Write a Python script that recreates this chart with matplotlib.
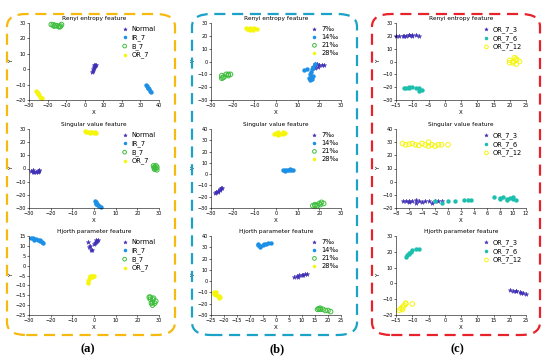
import numpy as np
import matplotlib
matplotlib.use("Agg")
import matplotlib.pyplot as plt
from matplotlib.patches import FancyBboxPatch

plt.rcParams['font.family'] = ['DejaVu Sans']

# class labels
labels_a = ["Normal", "IR_7", "B_7", "OR_7"]
labels_b = ["7\u2030", "14\u2030", "21\u2030", "28\u2030"]
labels_c = ["OR_7_3", "OR_7_6", "OR_7_12"]

# (a) Renyi entropy feature
a1_normal_x = [4, 4.3, 4.6, 5, 5.3, 5.6, 6, 5, 4.8]
a1_normal_y = [-2, -1, 0, 1, 2, 2.8, 3, 3, 1.5]
a1_ir_x = [33, 33.5, 34, 34.5, 35, 35.5, 34.2]
a1_ir_y = [-10, -11, -12, -13, -14, -15, -12.5]
a1_b_x = [-18, -17, -16, -15, -14, -13, -12.5, -13.5, -16.5]
a1_b_y = [29, 28.8, 28.5, 28.2, 27.8, 28, 29, 27.5, 28]
a1_or_x = [-26, -25.5, -25, -24.5, -24, -23, -23.5, -25.2]
a1_or_y = [-14, -15, -16, -17, -18, -19, -18.5, -15.5]

# (a) Singular value feature
a2_normal_x = [-29, -28, -27, -26, -25.5, -26, -28, -27.5, -25.2]
a2_normal_y = [-2, -3, -3, -2, -1, -3, -1.5, -2.5, -2]
a2_ir_x = [0.5, 1, 1.5, 2, 3, 1, 2.5, 0.8]
a2_ir_y = [-25, -26, -27, -28, -29, -27, -28.5, -25.5]
a2_b_x = [27.5, 28, 28.5, 29, 28, 29, 28.6, 27.8]
a2_b_y = [2, 1, 0, -1, -0.5, 1, 2, 0.5]
a2_or_x = [-4, -3, -2, -1, 0, 1, -2, -3.5, 0.5]
a2_or_y = [28.5, 28, 28, 27.5, 27, 27, 27, 27.8, 27.8]

# (a) Hjorth parameter feature
a3_normal_x = [-3, -2, -1, 0, 1, 1, 2, 0.5, -1.5, -2.5, 1.5]
a3_normal_y = [12, 10, 8, 11, 12, 13, 13, 11.5, 8, 9.5, 12.5]
a3_ir_x = [-29, -28, -27, -26, -25, -24, -23.5, -25, -27.5]
a3_ir_y = [14, 14, 13.5, 13, 12.5, 12, 11.5, 13, 13]
a3_b_x = [25.5, 26, 27, 27, 28, 27, 28.5, 26.5, 26, 27.5]
a3_b_y = [-16, -17, -17, -18.5, -19, -20, -18, -19, -16, -16.5]
a3_or_x = [-3, -2.5, -2, -1, 0, -1, -3, -0.5, -2]
a3_or_y = [-8, -7, -6, -5, -5.5, -6, -9, -5, -5]

# (b) Renyi entropy feature
b1_7_x = [17, 18, 19, 20, 21, 22, 18, 18, 19.5]
b1_7_y = [-4, -3, -2, -3, -3, -3, -5, -2, -4]
b1_14_x = [18, 17, 16.5, 16, 15.5, 16, 16.5, 15, 13, 17, 15.5, 14.5]
b1_14_y = [-2, -4, -6, -8, -10, -12, -14, -13, -7, -11, -14.5, -6]
b1_21_x = [-25, -25, -24, -23, -22, -21, -22, -24.5]
b1_21_y = [-13, -11, -12, -10, -10, -10, -11, -12.5]
b1_28_x = [-14, -13, -12, -11, -10, -9, -12, -13.5, -10.5]
b1_28_y = [26, 25, 26, 25, 26, 25.5, 24.5, 25.5, 24.8]

# (b) Singular value feature
b2_7_x = [-28, -27, -26, -25, -26, -27, -27.5, -25.5]
b2_7_y = [-17, -15, -13, -12, -14, -16, -16, -12.5]
b2_14_x = [3, 4, 5, 6, 7, 8, 4, 6.5]
b2_14_y = [4, 4, 3.5, 4, 3.5, 3.5, 3, 4.5]
b2_21_x = [17, 18, 19, 20, 21, 22, 18, 20.5]
b2_21_y = [-28, -27, -28, -26, -25, -26, -28, -27]
b2_28_x = [-1, 0, 1, 2, 3, 4, 1, 0.5, 3]
b2_28_y = [36, 36.5, 37, 36, 36, 36.5, 35, 35.5, 37]

# (b) Hjorth parameter feature
b3_7_x = [7, 8, 9, 10, 11, 12, 8.5, 10.5]
b3_7_y = [4, 4.5, 5, 5.5, 6, 6, 4, 5]
b3_14_x = [-7, -6, -5, -4, -3, -2, -6, -7, -4.5]
b3_14_y = [32, 31, 32, 33, 33.5, 34, 30.5, 33, 32.5]
b3_21_x = [16, 17, 18, 19, 20, 21, 17, 16.5]
b3_21_y = [-25, -24, -25, -26, -26, -27, -25, -24.5]
b3_28_x = [-24, -23, -23, -22, -21.5, -22, -24, -22.5]
b3_28_y = [-10, -10, -12, -13, -14, -15, -11, -13.5]

# (c) Renyi entropy feature
c1_3_x = [-15, -14, -13, -12, -11, -10, -9, -8, -10, -11, -12.5]
c1_3_y = [20, 20, 19.5, 20, 20.5, 21, 20.5, 20, 20, 21, 19.5]
c1_6_x = [-12, -11, -10, -9, -8, -7, -8, -11, -12.5]
c1_6_y = [-21, -20, -20, -20.5, -21, -22, -23, -21, -20.5]
c1_12_x = [20, 21, 22, 22, 21, 23, 22, 20, 21.5]
c1_12_y = [-1, 0, 1, 2, -1, 0, -2, 1, 3]

# (c) Singular value feature
c2_3_x = [-7, -6.5, -6, -5.5, -5, -4.5, -4, -3.5, -3, -2.5, -2, -1.5, -1, -5, -6]
c2_3_y = [-15, -15, -14.5, -15, -14, -15, -15.5, -14.5, -15, -16, -15, -14.5, -15, -16, -15.5]
c2_6_x = [-2, -1, 0, 1, 3, 3.5, 2.5, 7, 8, 8.5, 9, 9.5, 10, 10.5, 9, 8, 10]
c2_6_y = [-15, -16, -15, -15, -14, -14, -14, -12, -13, -12, -13, -12.5, -13, -14, -14, -12.5, -12]
c2_12_x = [-7, -6.5, -6, -5, -4.5, -4, -3.5, -3, -2.5, -2, -1.5, -1, 0, -3, -5.5]
c2_12_y = [29, 28, 28.5, 28, 27.5, 29, 28, 30, 28, 27, 28, 28, 28, 27, 29]

# (c) Hjorth parameter feature
c3_3_x = [20, 21, 22, 23, 24, 25, 22, 23.5]
c3_3_y = [-4, -4.5, -5, -5.5, -6, -7, -4.5, -6]
c3_6_x = [-12, -11.5, -11, -10.5, -10, -9, -8, -11]
c3_6_y = [17, 18, 19, 20, 21, 21.5, 21.5, 18.5]
c3_12_x = [-14, -13.5, -13, -12.5, -12, -10, -13, -12]
c3_12_y = [-17, -16, -15, -14, -13, -13, -16.5, -12.5]

purple = "#3f2fb4"
blue = "#1c8fe6"
green = "#3dbe3c"
yellow = "#f6f50c"
teal = "#1cbfae"

titles = ["Renyi entropy feature", "Singular value feature", "Hjorth parameter feature"]

fig = plt.figure(figsize=(5.5, 3.61), dpi=100)

lefts = [29/550, 211/550, 396/550]
width = 130/550
bottoms = [1-100/361, 1-208/361, 1-315/361]
heights = [77/361, 79/361, 79/361]
leg_x = [0.71, 0.77, 0.67]


def scatter_groups(ax, groups, labels, colors, styles, lx):
    for (gx, gy), lab, col, st in zip(groups, labels, colors, styles):
        if st == "hollow":
            ax.scatter(gx, gy, s=11, marker="o", facecolors="none", edgecolors=col,
                       linewidths=0.7, label=lab, clip_on=False)
        elif st == "star":
            ax.scatter(gx, gy, s=11, marker="*", color=col, linewidths=0.3, label=lab,
                       clip_on=False)
        else:
            ax.scatter(gx, gy, s=10, marker="o", color=col, linewidths=0, label=lab,
                       clip_on=False)
    leg = ax.legend(loc="upper left", frameon=False, fontsize=4.8, handlelength=1.0,
                    handletextpad=0.5, labelspacing=0.3, borderaxespad=0, borderpad=0,
                    bbox_to_anchor=(lx, 0.96), markerscale=0.8)
    return leg


def style_axes(ax, title, xlim, xticks, ylim, yticks):
    ax.set_xlim(xlim)
    ax.set_ylim(ylim)
    ax.set_xticks(xticks)
    ax.set_yticks(yticks)
    ax.set_title(title, fontsize=4.2, pad=2)
    ax.set_xlabel("X", fontsize=4, labelpad=1)
    ax.set_ylabel("Y", fontsize=4, labelpad=1)
    ax.tick_params(labelsize=3.5, length=1.5, width=0.4, pad=1)
    for side in ["top", "right"]:
        ax.spines[side].set_visible(False)
    for side in ["left", "bottom"]:
        ax.spines[side].set_linewidth(0.4)


# column a
cols_a = [purple, blue, green, yellow]
st_a = ["star", "dot", "hollow", "dot"]
ax = fig.add_axes([lefts[0], bottoms[0], width, heights[0]])
scatter_groups(ax, [(a1_normal_x, a1_normal_y), (a1_ir_x, a1_ir_y), (a1_b_x, a1_b_y), (a1_or_x, a1_or_y)],
               labels_a, cols_a, st_a, leg_x[0])
style_axes(ax, titles[0], (-30, 40), range(-30, 41, 10), (-20, 30), range(-20, 31, 10))

ax = fig.add_axes([lefts[0], bottoms[1], width, heights[1]])
scatter_groups(ax, [(a2_normal_x, a2_normal_y), (a2_ir_x, a2_ir_y), (a2_b_x, a2_b_y), (a2_or_x, a2_or_y)],
               labels_a, cols_a, st_a, leg_x[0])
style_axes(ax, titles[1], (-30, 30), range(-30, 31, 10), (-30, 30), range(-30, 31, 10))

ax = fig.add_axes([lefts[0], bottoms[2], width, heights[2]])
scatter_groups(ax, [(a3_normal_x, a3_normal_y), (a3_ir_x, a3_ir_y), (a3_b_x, a3_b_y), (a3_or_x, a3_or_y)],
               labels_a, cols_a, st_a, leg_x[0])
style_axes(ax, titles[2], (-30, 30), range(-30, 31, 10), (-25, 15), range(-25, 16, 5))

# column b
ax = fig.add_axes([lefts[1], bottoms[0], width, heights[0]])
scatter_groups(ax, [(b1_7_x, b1_7_y), (b1_14_x, b1_14_y), (b1_21_x, b1_21_y), (b1_28_x, b1_28_y)],
               labels_b, cols_a, st_a, leg_x[1])
style_axes(ax, titles[0], (-30, 30), range(-30, 31, 10), (-30, 30), range(-30, 31, 10))

ax = fig.add_axes([lefts[1], bottoms[1], width, heights[1]])
scatter_groups(ax, [(b2_7_x, b2_7_y), (b2_14_x, b2_14_y), (b2_21_x, b2_21_y), (b2_28_x, b2_28_y)],
               labels_b, cols_a, st_a, leg_x[1])
style_axes(ax, titles[1], (-30, 30), range(-30, 31, 10), (-30, 40), range(-30, 41, 10))

ax = fig.add_axes([lefts[1], bottoms[2], width, heights[2]])
scatter_groups(ax, [(b3_7_x, b3_7_y), (b3_14_x, b3_14_y), (b3_21_x, b3_21_y), (b3_28_x, b3_28_y)],
               labels_b, cols_a, st_a, leg_x[1])
style_axes(ax, titles[2], (-25, 25), range(-25, 26, 5), (-30, 40), range(-30, 41, 10))

# column c
cols_c = [purple, teal, yellow]
st_c = ["star", "dot", "hollow"]
ax = fig.add_axes([lefts[2], bottoms[0], width, heights[0]])
scatter_groups(ax, [(c1_3_x, c1_3_y), (c1_6_x, c1_6_y), (c1_12_x, c1_12_y)], labels_c, cols_c, st_c, leg_x[2])
style_axes(ax, titles[0], (-15, 25), range(-15, 26, 5), (-30, 30), range(-30, 31, 10))

ax = fig.add_axes([lefts[2], bottoms[1], width, heights[1]])
scatter_groups(ax, [(c2_3_x, c2_3_y), (c2_6_x, c2_6_y), (c2_12_x, c2_12_y)], labels_c, cols_c, st_c, leg_x[2])
style_axes(ax, titles[1], (-8, 12), range(-8, 13, 2), (-20, 40), range(-20, 41, 10))

ax = fig.add_axes([lefts[2], bottoms[2], width, heights[2]])
scatter_groups(ax, [(c3_3_x, c3_3_y), (c3_6_x, c3_6_y), (c3_12_x, c3_12_y)], labels_c, cols_c, st_c, leg_x[2])
style_axes(ax, titles[2], (-15, 25), range(-15, 26, 5), (-20, 30), range(-20, 31, 10))

# dashed rounded boxes around each column
box_specs = [(7, 175, "#f5b90f"), (192, 357, "#1aa3c6"), (372, 540, "#e8222b")]
for x0, x1, col in box_specs:
    box = FancyBboxPatch((x0/550, 1-335/361), (x1-x0)/550, (335-14)/361,
                         boxstyle="round,pad=0,rounding_size=0.035",
                         transform=fig.transFigure, fill=False, edgecolor=col,
                         linewidth=1.6, linestyle=(0, (5, 3)))
    fig.patches.append(box)

for xc, lab in [(88, "(a)"), (277, "(b)"), (457, "(c)")]:
    fig.text(xc/550, 1-349/361, lab, ha="center", va="center", fontsize=9,
             fontweight="bold", family=["Liberation Serif", "DejaVu Serif"])

fig.savefig("out.png", dpi=100)
